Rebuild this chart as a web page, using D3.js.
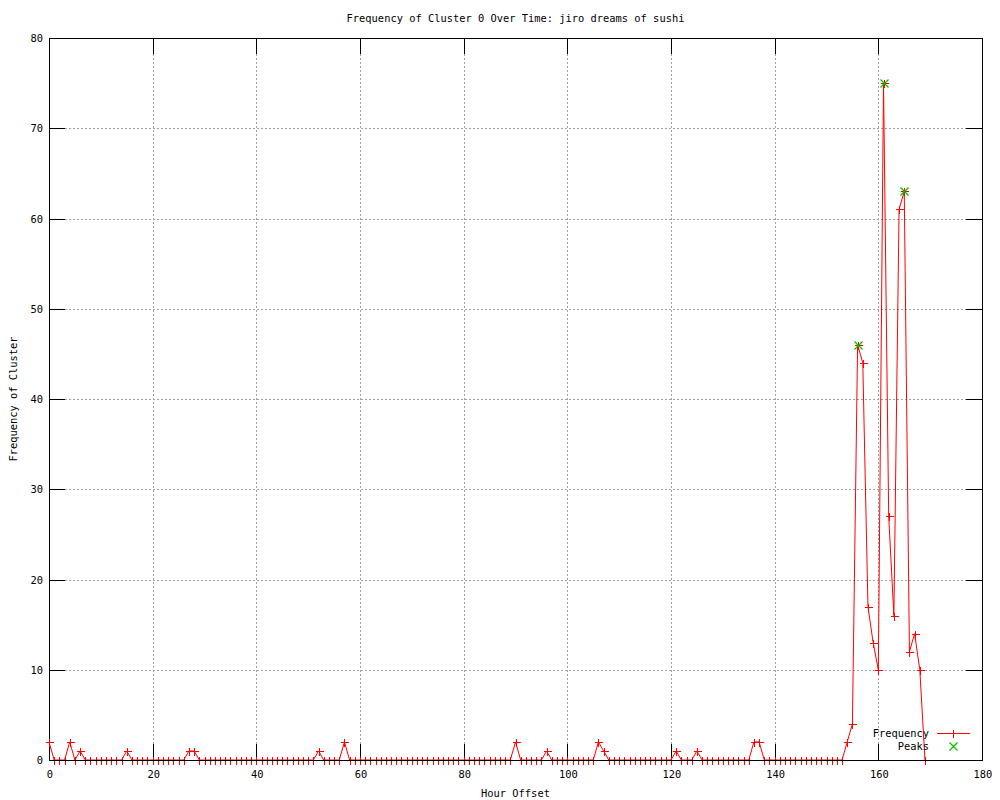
<!DOCTYPE html>
<html>
<head>
<meta charset="utf-8">
<script src="https://cdn.jsdelivr.net/npm/d3@7"></script>
<style>
  body { margin: 0; background: #fff; }
  svg text { font-family: "DejaVu Sans Mono", "Liberation Mono", monospace; font-size: 10.4px; fill: #000; }
</style>
</head>
<body>
<svg id="chart" width="1000" height="800"></svg>
<script>
// frequency per hour offset, hours 0..169
const freqValues = [
  2,0,0,0,2,0,1,0,0,0,
  0,0,0,0,0,1,0,0,0,0,
  0,0,0,0,0,0,0,1,1,0,
  0,0,0,0,0,0,0,0,0,0,
  0,0,0,0,0,0,0,0,0,0,
  0,0,1,0,0,0,0,2,0,0,
  0,0,0,0,0,0,0,0,0,0,
  0,0,0,0,0,0,0,0,0,0,
  0,0,0,0,0,0,0,0,0,0,
  2,0,0,0,0,0,1,0,0,0,
  0,0,0,0,0,0,2,1,0,0,
  0,0,0,0,0,0,0,0,0,0,
  0,1,0,0,0,1,0,0,0,0,
  0,0,0,0,0,0,2,2,0,0,
  0,0,0,0,0,0,0,0,0,0,
  0,0,0,0,2,4,46,44,17,13,
  10,75,27,16,61,63,12,14,10,0
]
const peakHours = [156, 161, 165]
const peakValues = [46, 75, 63]
const xTicks = [0, 20, 40, 60, 80, 100, 120, 140, 160, 180]
const yTicks = [0, 10, 20, 30, 40, 50, 60, 70, 80]

const svg = d3.select('#chart')
const pLeft = 49, pRight = 982, pTop = 38, pBottom = 760
const red = '#ff0000', green = '#00c000'

const x = d3.scaleLinear().domain([0, 180]).range([pLeft, pRight])
const y = d3.scaleLinear().domain([0, 80]).range([pBottom, pTop])

const freqData = freqValues.map((v, i) => ({hour: i, value: v}))
const peakData = peakHours.map((h, i) => ({hour: h, value: peakValues[i]}))

// grid
let grid = svg.append('g').attr('class', 'grid')
  .attr('stroke', '#a0a0a0').attr('stroke-dasharray', '2,2').style('shape-rendering', 'crispEdges')
grid.selectAll('line.gx').data(xTicks.filter(t => t > 0 && t < 180)).enter().append('line')
  .attr('x1', d => Math.round(x(d)) + 0.5).attr('x2', d => Math.round(x(d)) + 0.5)
  .attr('y1', pTop).attr('y2', pBottom)
grid.selectAll('line.gy').data(yTicks.filter(t => t > 0 && t < 80)).enter().append('line')
  .attr('y1', d => Math.round(y(d)) + 0.5).attr('y2', d => Math.round(y(d)) + 0.5)
  .attr('x1', pLeft).attr('x2', pRight)

// border and ticks
let axes = svg.append('g').attr('class', 'axes').attr('stroke', '#000').style('shape-rendering', 'crispEdges')
axes.append('rect').attr('x', pLeft + 0.5).attr('y', pTop + 0.5)
  .attr('width', pRight - pLeft).attr('height', pBottom - pTop).attr('fill', 'none')
const tl = 16
axes.selectAll('line.tx').data(xTicks).enter().append('line')
  .attr('x1', d => Math.round(x(d)) + 0.5).attr('x2', d => Math.round(x(d)) + 0.5)
  .attr('y1', pBottom).attr('y2', pBottom - tl)
axes.selectAll('line.txt').data(xTicks).enter().append('line')
  .attr('x1', d => Math.round(x(d)) + 0.5).attr('x2', d => Math.round(x(d)) + 0.5)
  .attr('y1', pTop).attr('y2', pTop + tl)
axes.selectAll('line.ty').data(yTicks).enter().append('line')
  .attr('y1', d => Math.round(y(d)) + 0.5).attr('y2', d => Math.round(y(d)) + 0.5)
  .attr('x1', pLeft).attr('x2', pLeft + tl)
axes.selectAll('line.tyr').data(yTicks).enter().append('line')
  .attr('y1', d => Math.round(y(d)) + 0.5).attr('y2', d => Math.round(y(d)) + 0.5)
  .attr('x1', pRight).attr('x2', pRight - tl)

// frequency line + markers
const freqLine = d3.line().x(d => x(d.hour)).y(d => y(d.value))
let series = svg.append('g').attr('class', 'series')
series.append('path').datum(freqData)
  .attr('d', freqLine).attr('fill', 'none').style('stroke', red).style('stroke-width', 1)
const plus = (cx, cy, r) => `M${cx - r},${cy}H${cx + r}M${cx},${cy - r}V${cy + r}`
series.selectAll('path.pt').data(freqData).enter().append('path')
  .attr('class', 'pt')
  .attr('d', d => plus(Math.round(x(d.hour)) + 0.5, Math.round(y(d.value)) + 0.5, 4))
  .style('stroke', red).style('fill', 'none').style('shape-rendering', 'crispEdges')

// redraw baseline in black over the zero runs
svg.append('line').attr('x1', pLeft).attr('x2', pRight).attr('y1', pBottom + 0.5).attr('y2', pBottom + 0.5)
  .style('stroke', '#000').style('shape-rendering', 'crispEdges')

// peaks
const cross = (cx, cy, r) => `M${cx - r},${cy - r}L${cx + r},${cy + r}M${cx - r},${cy + r}L${cx + r},${cy - r}`
svg.append('g').attr('class', 'peaks').selectAll('path').data(peakData).enter().append('path')
  .attr('d', d => cross(Math.round(x(d.hour)) + 0.5, Math.round(y(d.value)) + 0.5, 4))
  .style('stroke', green).style('stroke-width', 1.2).style('fill', 'none')

// tick labels
svg.append('g').selectAll('text').data(xTicks).enter().append('text')
  .attr('x', d => x(d) + 1).attr('y', pBottom + 18).attr('text-anchor', 'middle').text(d => d)
svg.append('g').selectAll('text').data(yTicks).enter().append('text')
  .attr('x', pLeft - 6).attr('y', d => y(d) + 4).attr('text-anchor', 'end').text(d => d)

// titles
svg.append('text').attr('x', (pLeft + pRight) / 2).attr('y', 22).attr('text-anchor', 'middle')
  .text('Frequency of Cluster 0 Over Time: jiro dreams of sushi')
svg.append('text').attr('x', (pLeft + pRight) / 2).attr('y', 797).attr('text-anchor', 'middle')
  .text('Hour Offset')
svg.append('text').attr('transform', 'translate(17,' + (pTop + pBottom) / 2 + ') rotate(-90)')
  .attr('text-anchor', 'middle').text('Frequency of Cluster')

// legend
let legend = svg.append('g').attr('class', 'legend')
legend.append('text').attr('x', 929).attr('y', 737).attr('text-anchor', 'end').text('Frequency')
legend.append('text').attr('x', 929).attr('y', 750).attr('text-anchor', 'end').text('Peaks')
legend.append('path').attr('d', 'M937,733.5H970')
  .style('stroke', red).style('fill', 'none').style('shape-rendering', 'crispEdges')
legend.append('path').attr('d', plus(953.5, 733.5, 4))
  .style('stroke', red).style('fill', 'none').style('shape-rendering', 'crispEdges')
legend.append('path').attr('d', cross(953.5, 746.5, 4))
  .style('stroke', green).style('stroke-width', 1.2).style('fill', 'none')
</script>
</body>
</html>
